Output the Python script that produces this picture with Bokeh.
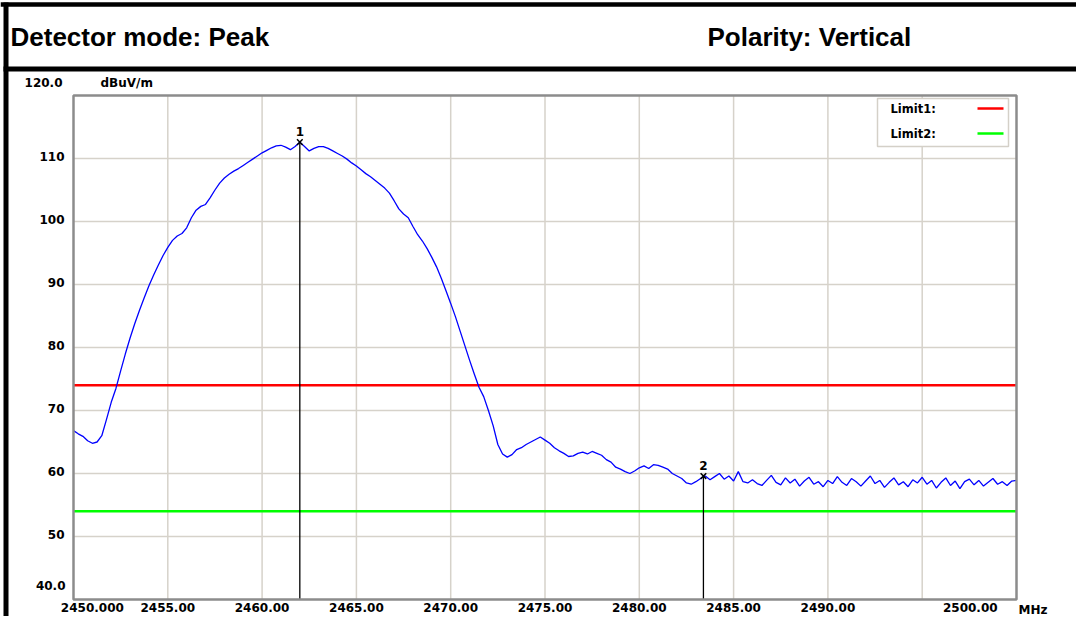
from bokeh.plotting import figure
from bokeh.models import Range1d
from bokeh.embed import file_html
from bokeh.resources import INLINE
from bokeh.core.properties import value

# ---------------- data ----------------
freq_start_mhz = 2450.0
freq_step_mhz = 0.25
level_dbuv = [
    66.8, 66.3, 65.9, 65.2, 64.8, 65.0, 66.0, 68.6, 71.3, 73.5,
    76.3, 79.0, 81.5, 83.8, 85.9, 87.9, 89.8, 91.5, 93.1, 94.6,
    95.9, 97.0, 97.7, 98.1, 99.0, 100.6, 101.8, 102.4, 102.7, 103.8,
    105.0, 106.1, 106.9, 107.5, 108.0, 108.4, 108.9, 109.4, 109.9, 110.4,
    110.9, 111.3, 111.7, 112.0, 112.1, 111.8, 111.4, 111.9, 112.6, 111.9,
    111.2, 111.6, 111.9, 111.9, 111.6, 111.2, 110.8, 110.4, 109.9, 109.3,
    108.8, 108.2, 107.6, 107.1, 106.5, 105.9, 105.3, 104.5, 103.3, 102.0,
    101.2, 100.6, 99.2, 97.9, 96.9, 95.7, 94.3, 92.8, 91.0, 89.0,
    87.0, 84.9, 82.6, 80.3, 78.0, 75.8, 73.7, 72.2, 70.0, 67.6,
    64.6, 63.1, 62.6, 63.0, 63.8, 64.1, 64.6, 65.0, 65.4, 65.8,
    65.3, 64.8, 64.1, 63.6, 63.2, 62.7, 62.8, 63.2, 63.4, 63.1,
    63.5, 63.2, 62.9, 62.2, 61.8, 61.0, 60.7, 60.3, 60.0, 60.4,
    60.9, 61.2, 60.8, 61.4, 61.3, 61.0, 60.7, 60.0, 59.6, 59.2,
    58.5, 58.3, 58.7, 59.2, 59.6, 59.0, 59.5, 60.0, 59.1, 59.6,
    58.8, 60.3, 58.7, 58.5, 59.0, 58.4, 58.1, 58.9, 59.7, 58.6,
    58.2, 59.3, 58.5, 59.1, 58.0, 58.8, 59.4, 58.3, 58.7, 57.9,
    58.9, 58.4, 59.5, 58.6, 58.1, 59.2, 58.7, 58.0, 58.8, 59.6,
    58.4, 58.9, 57.8, 58.6, 59.3, 58.2, 58.7, 57.9, 59.0, 58.5,
    59.4, 58.3, 58.9, 57.7, 58.6, 59.3, 58.1, 58.8, 57.6, 58.7,
    59.1, 58.2, 58.9, 58.0, 58.6, 59.2, 58.3, 58.7, 58.1, 58.8,
    58.9,
]
freq_mhz = [freq_start_mhz + freq_step_mhz * i for i in range(len(level_dbuv))]

limit_names = ["Limit1:", "Limit2:"]
limit_levels = [74.0, 54.0]
limit_colors = ["#ff0000", "#00ff00"]

marker_ids = ["1", "2"]
marker_freq = [2462.0, 2483.4]
marker_level = [112.6, 59.6]

x_min, x_max = 2450.0, 2500.0
y_min, y_max = 40.0, 120.0
x_label_pos = [2451.0, 2455.0, 2460.0, 2465.0, 2470.0, 2475.0, 2480.0, 2485.0, 2490.0, 2497.55]
x_labels = ["2450.000", "2455.00", "2460.00", "2465.00", "2470.00", "2475.00",
            "2480.00", "2485.00", "2490.00", "2500.00"]
x_grid = [2455.0, 2460.0, 2465.0, 2470.0, 2475.0, 2480.0, 2485.0, 2490.0, 2495.0]
y_ticks = [50, 60, 70, 80, 90, 100, 110]
y_tick_labels = ["50", "60", "70", "80", "90", "100", "110"]
y_top_label = "120.0"
y_bottom_label = "40.0"
y_unit = "dBuV/m"
x_unit = "MHz"
header_texts = ["Detector mode: Peak", "Polarity: Vertical"]

# ---------------- layout (pixels) ----------------
W, H = 1076, 616
BOX_L, BOX_R, BOX_T, BOX_B = 73, 1016, 95, 599
sx = (BOX_R - BOX_L) / (x_max - x_min)
sy = (BOX_B - BOX_T) / (y_max - y_min)

TICK_FONT = "DejaVu Sans"
GRID = "#d6d2ca"

p = figure(width=W, height=H,
           x_range=Range1d(x_min - BOX_L / sx, x_max + (W - BOX_R) / sx),
           y_range=Range1d(y_min - (H - BOX_B) / sy, y_max + BOX_T / sy),
           output_backend="svg", toolbar_location=None, min_border=0,
           x_axis_location=None, y_axis_location=None, outline_line_color=None,
           background_fill_color="white", border_fill_color="white")
p.grid.visible = False
p.extra_x_ranges = {"px": Range1d(0, W)}
p.extra_y_ranges = {"py": Range1d(H, 0)}
PX = dict(x_range_name="px", y_range_name="py")

# ---- page frame (black rules) and header ----
p.segment(x0=[0, 3], y0=[4, 68.5], x1=[W + 20, W + 20], y1=[4, 68.5],
          line_color="black", line_width=[4.5, 5], line_cap="butt", **PX)
p.segment(x0=[5.5], y0=[2], x1=[5.5], y1=[H + 20],
          line_color="black", line_width=5, line_cap="butt", **PX)
p.text(x=[10, 707], y=[36, 36], text=header_texts,
       text_font=value("Liberation Sans"), text_font_style="bold",
       text_font_size="26px", text_baseline="middle", text_color="black", **PX)

# ---- grid ----
p.segment(x0=x_grid, y0=[y_min] * len(x_grid), x1=x_grid, y1=[y_max] * len(x_grid),
          line_color=GRID, line_width=1.5)
p.segment(x0=[x_min] * len(y_ticks), y0=y_ticks, x1=[x_max] * len(y_ticks), y1=y_ticks,
          line_color=GRID, line_width=1.5)

# ---- tick labels ----
tk = dict(text_font=value(TICK_FONT), text_font_style="bold", text_font_size="12px",
          text_color="black")
p.text(x=x_label_pos, y=[y_min] * len(x_label_pos), text=x_labels, y_offset=3,
       text_align="center", text_baseline="top", **tk)
p.text(x=[x_max], y=[y_min], text=[x_unit], x_offset=2, y_offset=3,
       text_align="left", text_baseline="top", **tk)
p.text(x=[x_min] * len(y_ticks), y=y_ticks, text=y_tick_labels, x_offset=-9, y_offset=-2,
       text_align="right", text_baseline="middle", **tk)
p.text(x=[x_min], y=[y_max], text=[y_top_label], x_offset=-11, y_offset=-13,
       text_align="right", text_baseline="middle", **tk)
p.text(x=[x_min], y=[y_max], text=[y_unit], x_offset=27, y_offset=-13,
       text_align="left", text_baseline="middle", **tk)
p.text(x=[x_min], y=[y_min], text=[y_bottom_label], x_offset=-8, y_offset=-14,
       text_align="right", text_baseline="middle", **tk)

# ---- limit lines ----
for lvl, col in zip(limit_levels, limit_colors):
    p.line([x_min, x_max], [lvl, lvl], line_color=col, line_width=2.5)

# ---- trace ----
p.line(freq_mhz, level_dbuv, line_color="#0000ff", line_width=1.3)

# ---- markers ----
p.segment(x0=marker_freq, y0=marker_level, x1=marker_freq, y1=[y_min] * len(marker_freq),
          line_color="black", line_width=1.3)
p.scatter(marker_freq, marker_level, marker="x", size=8, line_color="black", line_width=1.5)
p.text(marker_freq, marker_level, text=marker_ids, y_offset=-6,
       text_align="center", text_baseline="bottom", **tk)

# ---- chart box ----
p.quad(left=[x_min], right=[x_max], bottom=[y_min], top=[y_max],
       fill_color=None, line_color="#8c8c8c", line_width=2.5)

# ---- legend (label left, line sample right) ----
p.quad(left=[877], right=[1008], top=[98], bottom=[146], fill_color="white",
       line_color="#d4d0c8", line_width=1.5, **PX)
leg_y = [108, 133]
p.text(x=[890] * len(limit_names), y=leg_y, text=limit_names, text_align="left",
       text_baseline="middle", text_font=value(TICK_FONT), text_font_style="bold",
       text_font_size="11.5px", text_color="black", **PX)
p.segment(x0=[977] * len(leg_y), y0=leg_y, x1=[1003] * len(leg_y), y1=leg_y,
          line_color=limit_colors, line_width=2.5, **PX)

open("out.html", "w").write(file_html(p, INLINE))
